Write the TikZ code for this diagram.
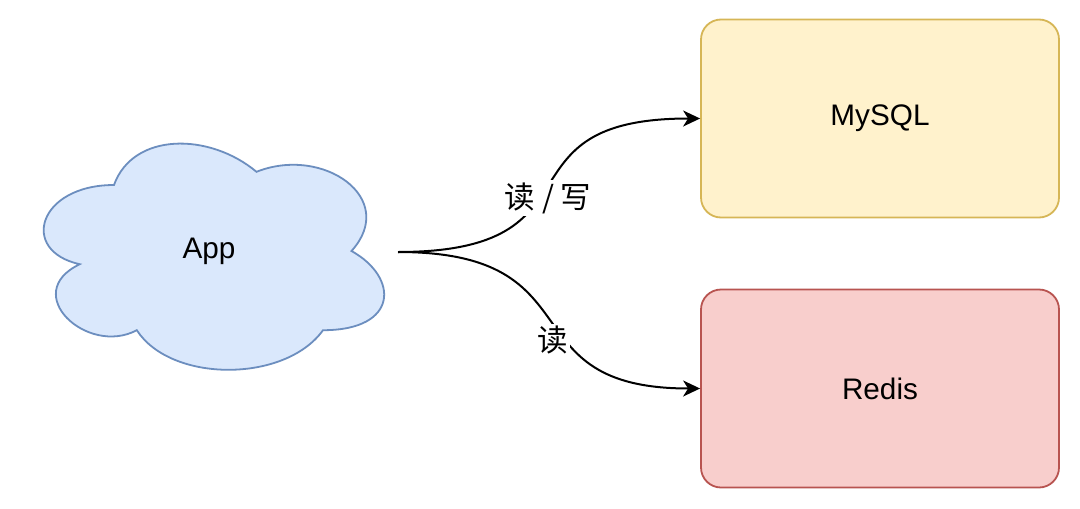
\documentclass[tikz,border=0pt]{standalone}
\usepackage{fontspec}
\setmainfont{Liberation Sans}
\newfontfamily\cjk{Noto Sans CJK SC}
\usetikzlibrary{arrows.meta}
\definecolor{cloudfill}{HTML}{DAE8FC}
\definecolor{cloudline}{HTML}{6C8EBF}
\definecolor{yfill}{HTML}{FFF2CC}
\definecolor{yline}{HTML}{D6B656}
\definecolor{rfill}{HTML}{F8CECC}
\definecolor{rline}{HTML}{B85450}
\tikzset{
  dbbox/.style={rounded corners=20pt, line width=1.8pt, minimum width=358pt, minimum height=198pt, inner sep=0pt, font=\fontsize{29.7}{34}\selectfont},
  flow/.style={line width=2pt, -{Stealth[length=17pt,width=16pt,inset=5pt]}},
  lbl/.style={fill=white, inner sep=2pt, font=\cjk\fontsize{30.5}{34}\selectfont}
}
\begin{document}
\begin{tikzpicture}[x=1pt,y=-1pt]
\useasboundingbox (0,0) rectangle (1080,509);
\fill[white] (0,0) rectangle (1080,509);
% cloud: box x 19..399, y 119..383 (w=380, h=264)
\begin{scope}[shift={(19,119)}, x=380pt, y=-264pt]
\draw[line width=1.8pt, draw=cloudline, fill=cloudfill]
  (0.25,0.25) .. controls (0.05,0.25) and (0,0.5) .. (0.16,0.55)
  .. controls (0,0.66) and (0.18,0.9) .. (0.31,0.8)
  .. controls (0.4,1) and (0.7,1) .. (0.8,0.8)
  .. controls (1,0.8) and (1,0.6) .. (0.875,0.5)
  .. controls (1,0.3) and (0.8,0.1) .. (0.625,0.2)
  .. controls (0.5,0.05) and (0.3,0.05) .. (0.25,0.25) -- cycle;
\end{scope}
\node[font=\fontsize{29.7}{34}\selectfont] (app) at (209,251) {App};
\coordinate (appout) at (398,252);
\node[dbbox, draw=yline, fill=yfill] (mysql) at (880,118.5) {MySQL};
\node[dbbox, draw=rline, fill=rfill] (redis) at (880,388.5) {Redis};
\draw[flow] (appout) .. controls (610,252) and (490,118.5) .. (mysql.west);
\draw[flow] (appout) .. controls (600,252) and (505,388.5) .. (redis.west);
\node[lbl] (l1) at (548,198) {读 / 写};
\node[lbl] (l2) at (553,340) {读};
\end{tikzpicture}
\end{document}
